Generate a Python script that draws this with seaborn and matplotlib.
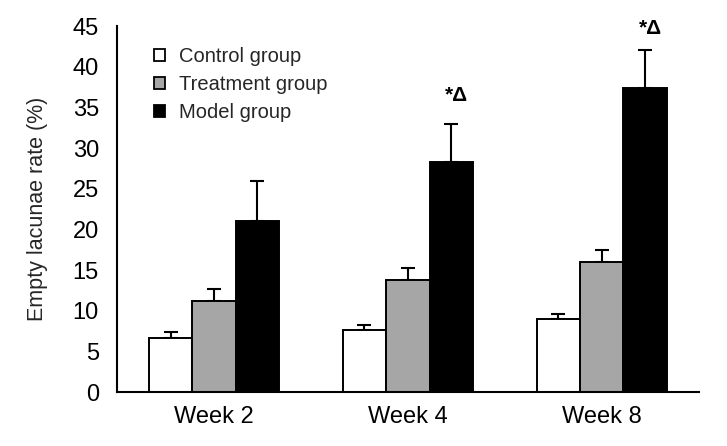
import numpy as np
import pandas as pd
import matplotlib
matplotlib.use("Agg")
import matplotlib.pyplot as plt
import seaborn as sns

# values
weeks = ["Week 2", "Week 4", "Week 8"]
groups = ["Control group", "Treatment group", "Model group"]
control = [6.7, 7.65, 9.0]
control_err = [0.75, 0.6, 0.6]
treatment = [11.25, 13.8, 16.0]
treatment_err = [1.4, 1.45, 1.45]
model = [21.1, 28.3, 37.35]
model_err = [4.8, 4.6, 4.75]
marks = ["", "*Δ", "*Δ"]  # significance marks above model group
mark_y = [0, 35.3, 43.5]

colors = ["#ffffff", "#a6a6a6", "#000000"]

df = pd.DataFrame({
    "week": weeks * 3,
    "group": np.repeat(groups, len(weeks)),
    "rate": control + treatment + model,
    "err": control_err + treatment_err + model_err,
})

sns.set_theme(style="white")
plt.rcParams["font.family"] = ["Liberation Sans", "DejaVu Sans"]

fig, ax = plt.subplots(figsize=(7.27, 4.46), dpi=100)
fig.subplots_adjust(left=0.161, right=0.961, bottom=0.1204, top=0.9417)

sns.barplot(data=df, x="week", y="rate", hue="group", order=weeks, hue_order=groups,
            palette=colors, errorbar=None, width=0.672, gap=0,
            edgecolor="black", linewidth=1.4, ax=ax, zorder=2)

# one-sided (upper) error bars at the centre of each bar
bars = [p for p in ax.patches if p.get_height() > 0][:len(df)]
for bar, (_, row) in zip(bars, df.iterrows()):
    xc = bar.get_x() + bar.get_width() / 2
    ax.errorbar(xc, row["rate"], yerr=[[0], [row["err"]]], fmt="none",
                ecolor="black", elinewidth=1.5, capsize=5, capthick=1.5, zorder=1)

# significance annotations
for i, m in enumerate(marks):
    if m:
        bar = bars[2 * len(weeks) + i]
        xc = bar.get_x() + bar.get_width() / 2
        ax.text(xc + 0.025, mark_y[i], m, ha="center", va="bottom",
                fontsize=15, fontweight="bold", color="black")

ax.set_ylim(0, 45)
ax.set_xlim(-0.5, 2.5)
ax.set_yticks(np.arange(0, 46, 5))
ax.set_xlabel("")
ax.set_ylabel("Empty lacunae rate (%)", fontsize=15.5, labelpad=18)

# category labels without ticks, ticks at group boundaries
ax.set_xticks([-0.5, 0.5, 1.5, 2.5], minor=True)
ax.tick_params(axis="x", which="major", length=0, pad=10, labelsize=17)
ax.tick_params(axis="x", which="minor", length=6, width=1.5, direction="out", color="black")
ax.tick_params(axis="y", length=7, width=1.5, direction="out", color="black", labelsize=17, pad=6)
ax.tick_params(axis="both", colors="black")

for side in ["top", "right"]:
    ax.spines[side].set_visible(False)
for side in ["left", "bottom"]:
    ax.spines[side].set_color("black")
    ax.spines[side].set_linewidth(1.5)

leg = ax.legend(loc="upper left", bbox_to_anchor=(0.05, 0.965), frameon=False,
                fontsize=14.5, handlelength=0.55, handleheight=0.55,
                handletextpad=0.7, labelspacing=0.45, borderaxespad=0)
for h in leg.legend_handles:
    h.set_edgecolor("black")
    h.set_linewidth(1.3)

fig.savefig("out.png", dpi=100, facecolor="white")
